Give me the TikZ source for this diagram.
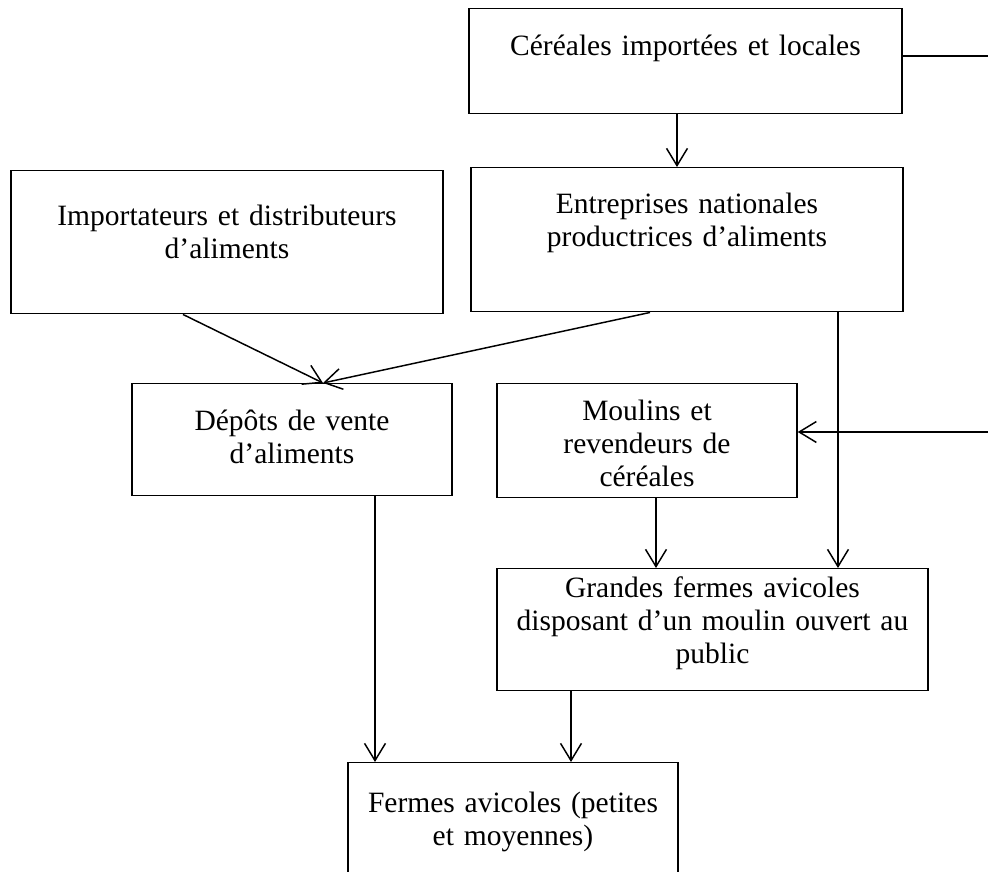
\documentclass[tikz,border=0pt]{standalone}
\usepackage{fontspec}
\setmainfont{Liberation Serif}
\usetikzlibrary{arrows.meta}
\newdimen\pxu
\pxu=0.4068pt
\tikzset{
  box/.style={draw, line width=0.6pt, anchor=north, inner xsep=0pt, inner ysep=0pt,
    align=center, font=\fontsize{12}{13.4}\selectfont},
  arr/.style={-{Straight Barb[length=7pt, width=8.5pt]}, line width=0.6pt}
}
\begin{document}
\begin{tikzpicture}[x=\pxu, y=-\pxu]
            \useasboundingbox (0,0) rectangle (988,872);
            \clip (0,0) rectangle (988,872);
            % Nodes
            \node[box, text width=433\pxu, text height=47\pxu, text depth=58\pxu] (cereales) at (685.5,8) {C\'er\'eales import\'ees et locales};
            \node[box, text width=432\pxu, text height=46\pxu, text depth=98\pxu] (entreprises) at (687,167) {Entreprises nationales\\productrices d’aliments};
            \node[box, text width=432\pxu, text height=55\pxu, text depth=88\pxu] (importateurs) at (227,170) {Importateurs et distributeurs\\d’aliments};
            \node[box, text width=320\pxu, text height=47\pxu, text depth=65\pxu] (depots) at (292,383) {D\'ep\^ots de vente\\d’aliments};
            \node[box, text width=300\pxu, text height=37\pxu, text depth=77\pxu] (moulins) at (647,383) {Moulins et\\revendeurs de\\c\'er\'eales};
            \node[box, text width=431\pxu, text height=29\pxu, text depth=93\pxu] (grandes) at (712.5,568) {Grandes fermes avicoles\\disposant d’un moulin ouvert au\\public};
            \node[box, text width=330\pxu, text height=50\pxu, text depth=90\pxu] (fermes) at (513,762) {Fermes avicoles (petites\\et moyennes)};
            \coordinate (edgeA) at (988,56);
            \coordinate (edgeB) at (988,432);

            % Edges
            \draw[line width=0.6pt] (cereales.east |- edgeA) -- (edgeA);
            \draw[arr] (edgeB) -- (moulins.east |- edgeB);
            \draw[arr] (cereales.south -| 677,0) -- (entreprises.north -| 677,0);
            \draw[arr] (importateurs.south -| 183,0) -- (depots.north -| 323,0);
            \draw[arr] (entreprises.south -| 650,0) -- (depots.north -| 323,0);
            \draw[arr] (entreprises.south -| 838,0) -- (grandes.north -| 838,0);
            \draw[arr] (moulins.south -| 656,0) -- (grandes.north -| 656,0);
            \draw[arr] (depots.south -| 375,0) -- (fermes.north -| 375,0);
            \draw[arr] (grandes.south -| 571,0) -- (fermes.north -| 571,0);
        \end{tikzpicture}
\end{document}
